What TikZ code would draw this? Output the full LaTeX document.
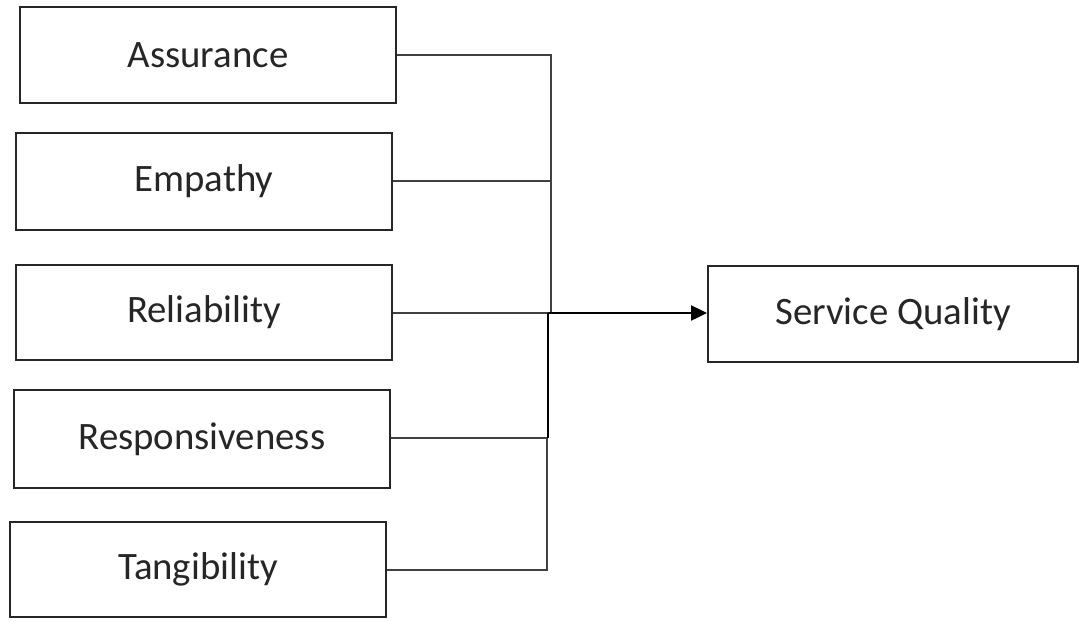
\documentclass[tikz,border=0pt]{standalone}
\usepackage{fontspec}
\setmainfont{Carlito}
\usetikzlibrary{arrows.meta}
\begin{document}
\begin{tikzpicture}[x=0.5pt,y=-0.5pt,
  factor/.style={draw=black!85,line width=1pt,inner sep=0pt,minimum width=188pt,minimum height=48pt,
    font=\fontsize{19.4}{23}\selectfont,text=black!85},
  link/.style={draw=black!75,line width=1pt},
  mainlink/.style={draw=black,line width=1.2pt}]
\useasboundingbox[fill=white] (0,0) rectangle (1079,621);
\node[factor] (as) at (208,55) {Assurance};
\node[factor,minimum height=48.5pt] (em) at (204,181.5) {Empathy};
\node[factor,minimum height=47.5pt] (re) at (204,312.5) {Reliability};
\node[factor,minimum height=49pt] (rs) at (202,439) {Responsiveness};
\node[factor,minimum height=47.5pt] (ta) at (198,569.5) {Tangibility};
\node[factor,minimum width=185pt] (sq) at (893,314) {Service Quality};
\coordinate (jt) at (551,313);
\coordinate (jb) at (548,313);
\coordinate (jr) at (548,438);
\draw[link] (as.east |- 0,55) -| (jt);
\draw[link] (em.east |- 0,181) -- (em.east |- 0,181 -| jt);
\draw[link] (re.east |- 0,313) -- (jb);
\draw[link] (rs.east |- jr) -- (jr);
\draw[mainlink] (jr) -- (jb);
\draw[link] (ta.east |- 0,570) -| (547,438);
\draw[mainlink,-{Triangle[length=8pt,width=7.5pt]}] (jb) -- (sq.west |- jb);
\end{tikzpicture}
\end{document}
